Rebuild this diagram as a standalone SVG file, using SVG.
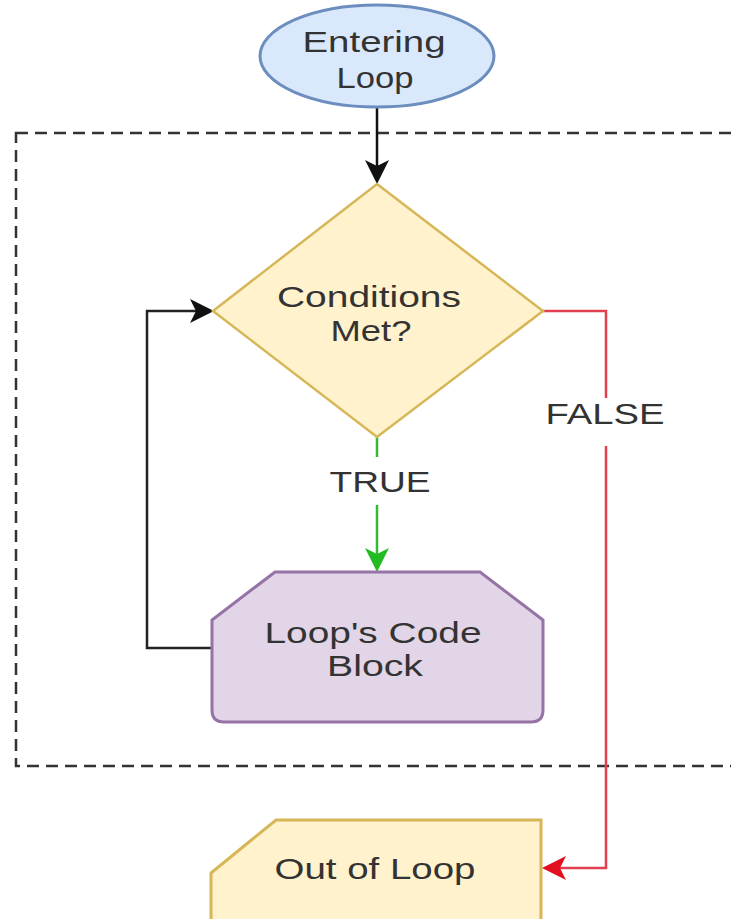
<svg xmlns="http://www.w3.org/2000/svg" width="731" height="919" viewBox="0 0 731 919">
<defs>
<style>
.t{font-family:"Liberation Sans",Arial,sans-serif;font-size:29px;fill:#333333;text-anchor:middle}
.c{fill:none;stroke-width:2.5}
</style>
<marker id="aBlack" markerWidth="10" markerHeight="10" refX="9" refY="5" orient="auto" markerUnits="userSpaceOnUse" viewBox="0 0 10 10"><path d="M0,0 L10,5 L0,10 L3,5 Z" fill="#111111"/></marker>
</defs>
<rect width="731" height="919" fill="#ffffff"/>
<rect id="loop-boundary" x="16" y="133" width="740" height="633" fill="none" stroke="#333333" stroke-width="2.5" stroke-dasharray="12 7"/>
<g id="connectors">
<line class="c" x1="377" y1="108" x2="377" y2="168" stroke="#111111"/>
<path d="M365,160 L377,184 L389,160 L377,166 Z" fill="#111111"/>
<polyline class="c" points="212,648 147,648 147,311 196,311" stroke="#222222"/>
<path d="M190,299 L214,311 L190,323 L196,311 Z" fill="#111111"/>
<line class="c" x1="377" y1="437" x2="377" y2="457" stroke="#33bb33"/>
<line class="c" x1="377" y1="505" x2="377" y2="556" stroke="#33bb33"/>
<path d="M365,548 L377,572 L389,548 L377,554 Z" fill="#22bb22"/>
<polyline class="c" points="543,311 606,311 606,398" stroke="#e04050"/>
<polyline class="c" points="606,446 606,868 558,868" stroke="#e04050"/>
<path d="M566,856 L542,868 L566,880 L560,868 Z" fill="#e01020"/>
<text class="t" x="380" y="492" textLength="101" lengthAdjust="spacingAndGlyphs">TRUE</text>
<text class="t" x="605" y="424" textLength="119" lengthAdjust="spacingAndGlyphs">FALSE</text>
</g>
<g id="entering-loop">
<ellipse cx="377" cy="56" rx="117" ry="51" fill="#dae8fc" stroke="#6c8ebf" stroke-width="3"/>
<text class="t" x="374" y="52" textLength="143" lengthAdjust="spacingAndGlyphs">Entering</text>
<text class="t" x="375" y="88" textLength="77" lengthAdjust="spacingAndGlyphs">Loop</text>
</g>
<g id="conditions-met">
<polygon points="377,184 543,311 377,437 213,311" fill="#fff2cc" stroke="#d6b656" stroke-width="2.5"/>
<text class="t" x="369" y="307" textLength="184" lengthAdjust="spacingAndGlyphs">Conditions</text>
<text class="t" x="371" y="341" textLength="81" lengthAdjust="spacingAndGlyphs">Met?</text>
</g>
<g id="code-block">
<path d="M275,572 L480,572 L543,620 L543,710 Q543,722 531,722 L224,722 Q212,722 212,710 L212,620 Z" fill="#e1d5e7" stroke="#9673a6" stroke-width="3"/>
<text class="t" x="373" y="643" textLength="217" lengthAdjust="spacingAndGlyphs">Loop's Code</text>
<text class="t" x="375" y="676" textLength="96" lengthAdjust="spacingAndGlyphs">Block</text>
</g>
<g id="out-of-loop">
<path d="M276,820 L541,820 L541,930 L211,930 L211,873 Z" fill="#fff2cc" stroke="#d6b656" stroke-width="3"/>
<text class="t" x="375" y="879" textLength="201" lengthAdjust="spacingAndGlyphs">Out of Loop</text>
</g>
</svg>
